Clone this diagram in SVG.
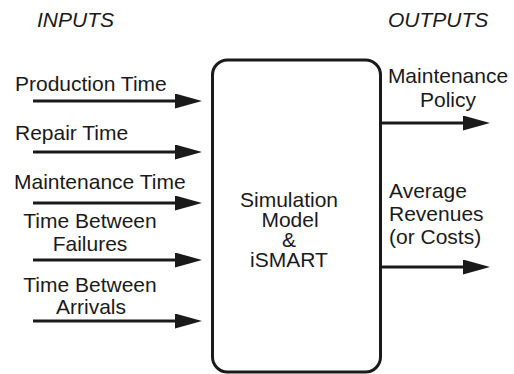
<svg xmlns="http://www.w3.org/2000/svg" width="514" height="374" viewBox="0 0 514 374">
  <style>
    text { font-family: "Liberation Sans", Arial, sans-serif; font-size: 21px; fill: #1a1a1a; }
    .head { font-style: italic; }
    .mid { text-anchor: middle; }
    .wire { stroke: #1a1a1a; stroke-width: 3; fill: none; marker-end: url(#arrow); }
    .box { stroke: #1a1a1a; stroke-width: 3; fill: #fff; }
  </style>
  <defs>
    <marker id="arrow" markerUnits="userSpaceOnUse" markerWidth="28" markerHeight="16" refX="0" refY="7.5" orient="auto">
      <path d="M0,0 L27,7.5 L0,15 Z" fill="#1a1a1a"/>
    </marker>
  </defs>
  <rect width="514" height="374" fill="#fff"/>

  <!-- column headings -->
  <text class="head" x="37" y="27">INPUTS</text>
  <text class="head" x="388" y="27">OUTPUTS</text>

  <!-- central process -->
  <g id="model">
    <rect class="box" x="212.5" y="60" width="168" height="312" rx="15" ry="15"/>
    <text class="mid" x="289" y="207">Simulation</text>
    <text class="mid" x="290" y="227">Model</text>
    <text class="mid" x="289" y="247">&amp;</text>
    <text class="mid" x="289" y="267">iSMART</text>
  </g>

  <!-- input labels -->
  <g id="in-production"><text x="15" y="91">Production Time</text></g>
  <g id="in-repair"><text x="15" y="140">Repair Time</text></g>
  <g id="in-maintenance"><text x="14" y="189">Maintenance Time</text></g>
  <g id="in-failures">
    <text class="mid" x="90" y="228">Time Between</text>
    <text class="mid" x="90" y="251">Failures</text>
  </g>
  <g id="in-arrivals">
    <text class="mid" x="90" y="292">Time Between</text>
    <text class="mid" x="91" y="314">Arrivals</text>
  </g>

  <!-- output labels -->
  <g id="out-policy">
    <text class="mid" x="448" y="83">Maintenance</text>
    <text class="mid" x="448" y="107">Policy</text>
  </g>
  <g id="out-revenues">
    <text x="389" y="198">Average</text>
    <text x="389" y="221">Revenues</text>
    <text x="389" y="244">(or Costs)</text>
  </g>

  <!-- connectors -->
  <g id="connectors">
    <line class="wire" x1="33" y1="101" x2="175" y2="101"/>
    <line class="wire" x1="33" y1="152" x2="175" y2="152"/>
    <line class="wire" x1="33" y1="203" x2="175" y2="203"/>
    <line class="wire" x1="33" y1="260" x2="175" y2="260"/>
    <line class="wire" x1="33" y1="321" x2="175" y2="321"/>
    <line class="wire" x1="382" y1="123" x2="463" y2="123"/>
    <line class="wire" x1="382" y1="267" x2="463" y2="267"/>
  </g>
</svg>
